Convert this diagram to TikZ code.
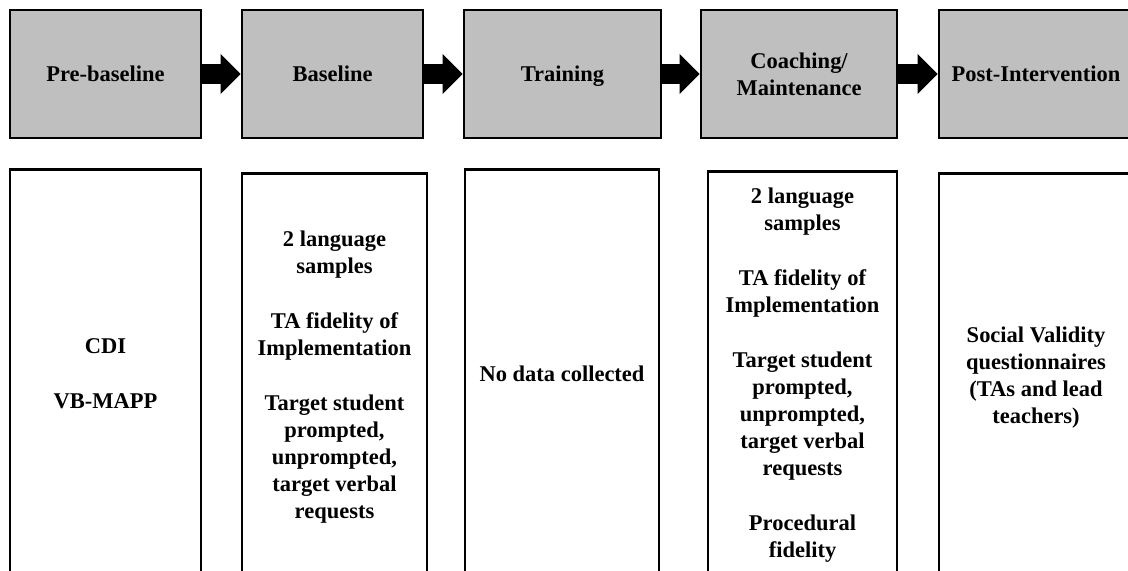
\documentclass[tikz,border=0pt]{standalone}
\usepackage{fontspec}
\setmainfont{Liberation Serif}
\usetikzlibrary{arrows.meta, positioning}

\begin{document}
\begin{tikzpicture}[
        phase/.style={rectangle, draw=black, fill=black!25, line width=2pt, minimum height=3.2cm, text depth=0pt, align=center, font=\bfseries\fontsize{16}{19.2}\selectfont},
        data/.style={rectangle, draw=black, fill=white, line width=2pt, anchor=north, minimum height=10.2cm, align=center, font=\bfseries\fontsize{16}{19.2}\selectfont},
        arrow/.style={draw=black, line width=0.5cm, -{Triangle[length=0.5cm, width=1cm, line width=0pt]}}
    ]
        \clip (0,0) rectangle (28.2,-14.25);

        % ================= FASES (FILA SUPERIOR) =================
        \node[phase, minimum width=4.775cm] (pre) at (2.6375,-1.85) {Pre-baseline};
        \node[phase, minimum width=4.525cm] (base) at (8.3125,-1.85) {Baseline};
        \node[phase, minimum width=4.925cm] (train) at (14.0625,-1.85) {Training};
        \node[phase, minimum width=4.9cm] (coach) at (19.975,-1.85) {Coaching/\\Maintenance};
        \node[phase, minimum width=4.85cm] (post) at (25.9,-1.85) {Post-Intervention};

        \draw[arrow] (pre.east) -- (base.west);
        \draw[arrow] (base.east) -- (train.west);
        \draw[arrow] (train.east) -- (coach.west);
        \draw[arrow] (coach.east) -- (post.west);

        % ================= DATOS (FILA INFERIOR) =================
        \node[data, minimum width=4.775cm] (pre_data) at (2.6375,-4.2) {CDI\\[0.7cm]VB-MAPP};
        \node[data, minimum width=4.625cm] (base_data) at (8.3625,-4.3) {2 language\\samples\\[0.7cm]TA fidelity of\\Implementation\\[0.7cm]Target student\\prompted,\\unprompted,\\target verbal\\requests};
        \node[data, minimum width=4.85cm] (train_data) at (14.05,-4.2) {No data collected};
        \node[data, minimum width=4.725cm] (coach_data) at (20.0625,-4.25) {2 language\\samples\\[0.7cm]TA fidelity of\\Implementation\\[0.7cm]Target student\\prompted,\\unprompted,\\target verbal\\requests\\[0.7cm]Procedural\\fidelity};
        \node[data, minimum width=4.85cm] (post_data) at (25.9,-4.3) {Social Validity\\questionnaires\\(TAs and lead\\teachers)};
    \end{tikzpicture}
\end{document}
